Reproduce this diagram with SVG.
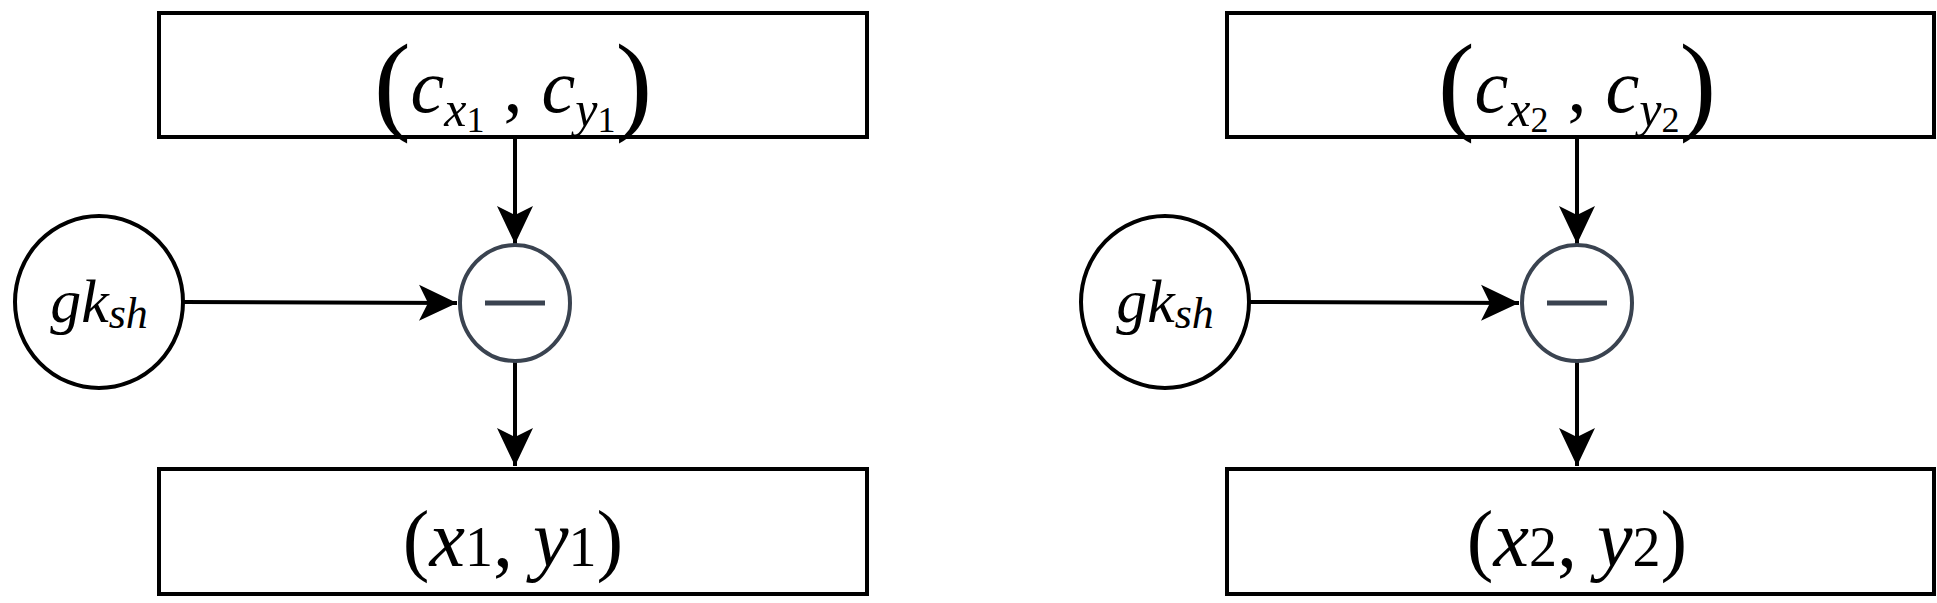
<svg xmlns="http://www.w3.org/2000/svg" width="1937" height="603" viewBox="0 0 1937 603">
<style>
.box{fill:#fff;stroke:#000;stroke-width:4}
.c{fill:#fff;stroke:#000;stroke-width:4}
.m{fill:#fff;stroke:#3a4350;stroke-width:4}
.ln{stroke:#000;stroke-width:4;fill:none;marker-end:url(#a)}
text{font-family:"Liberation Serif",serif;font-style:italic;fill:#000}
.up{font-style:normal}
</style>
<defs><marker id="a" markerWidth="12" markerHeight="12" refX="10" refY="6" orient="auto" markerUnits="userSpaceOnUse" viewBox="0 0 12 12"><path d="M0,0 L12,6 L0,12 L3,6 Z" fill="#000"/></marker>
<marker id="b" viewBox="0 0 40 40" markerWidth="40" markerHeight="40" refX="38" refY="20" orient="auto" markerUnits="userSpaceOnUse"><path d="M0,2 L38,20 L0,38 L9,20 Z" fill="#000"/></marker></defs>
<g id="connectors">
<path d="M515,137 V244" stroke="#000" stroke-width="4" marker-end="url(#b)"/>
<path d="M184,302 L457,303" stroke="#000" stroke-width="4" marker-end="url(#b)"/>
<path d="M515,360 V466" stroke="#000" stroke-width="4" marker-end="url(#b)"/>
<path d="M1577,137 V244" stroke="#000" stroke-width="4" marker-end="url(#b)"/>
<path d="M1248,302 L1519,303" stroke="#000" stroke-width="4" marker-end="url(#b)"/>
<path d="M1577,360 V466" stroke="#000" stroke-width="4" marker-end="url(#b)"/>
</g>
<g id="top1"><rect class="box" x="159" y="13" width="708" height="124"/>
<text x="513" y="112" text-anchor="middle" font-size="76"><tspan class="up" font-size="110" dy="8">(</tspan><tspan dy="-8">c</tspan><tspan font-size="50" dy="14">x</tspan><tspan class="up" font-size="36" dy="6">1</tspan><tspan class="up" dy="-20"> , </tspan><tspan>c</tspan><tspan font-size="50" dy="14">y</tspan><tspan class="up" font-size="36" dy="6">1</tspan><tspan class="up" font-size="110" dy="-12">)</tspan></text></g>
<g id="gk1"><ellipse class="c" cx="99" cy="302" rx="84" ry="86"/>
<text x="99" y="322" text-anchor="middle" font-size="62">gk<tspan font-size="44" dy="6">sh</tspan></text></g>
<g id="minus1"><ellipse class="m" cx="515" cy="303" rx="55" ry="58"/><path d="M485,303 H545" stroke="#3a4350" stroke-width="5"/></g>
<g id="bot1"><rect class="box" x="159" y="469" width="708" height="125"/>
<text x="513" y="566" text-anchor="middle" font-size="80"><tspan class="up">(</tspan>x<tspan class="up" font-size="56">1</tspan><tspan class="up">, </tspan>y<tspan class="up" font-size="56">1</tspan><tspan class="up">)</tspan></text></g>
<g id="top2"><rect class="box" x="1227" y="13" width="707" height="124"/>
<text x="1577" y="112" text-anchor="middle" font-size="76"><tspan class="up" font-size="110" dy="8">(</tspan><tspan dy="-8">c</tspan><tspan font-size="50" dy="14">x</tspan><tspan class="up" font-size="36" dy="6">2</tspan><tspan class="up" dy="-20"> , </tspan><tspan>c</tspan><tspan font-size="50" dy="14">y</tspan><tspan class="up" font-size="36" dy="6">2</tspan><tspan class="up" font-size="110" dy="-12">)</tspan></text></g>
<g id="gk2"><ellipse class="c" cx="1165" cy="302" rx="84" ry="86"/>
<text x="1165" y="322" text-anchor="middle" font-size="62">gk<tspan font-size="44" dy="6">sh</tspan></text></g>
<g id="minus2"><ellipse class="m" cx="1577" cy="303" rx="55" ry="58"/><path d="M1547,303 H1607" stroke="#3a4350" stroke-width="5"/></g>
<g id="bot2"><rect class="box" x="1227" y="469" width="707" height="125"/>
<text x="1577" y="566" text-anchor="middle" font-size="80"><tspan class="up">(</tspan>x<tspan class="up" font-size="56">2</tspan><tspan class="up">, </tspan>y<tspan class="up" font-size="56">2</tspan><tspan class="up">)</tspan></text></g>
</svg>
